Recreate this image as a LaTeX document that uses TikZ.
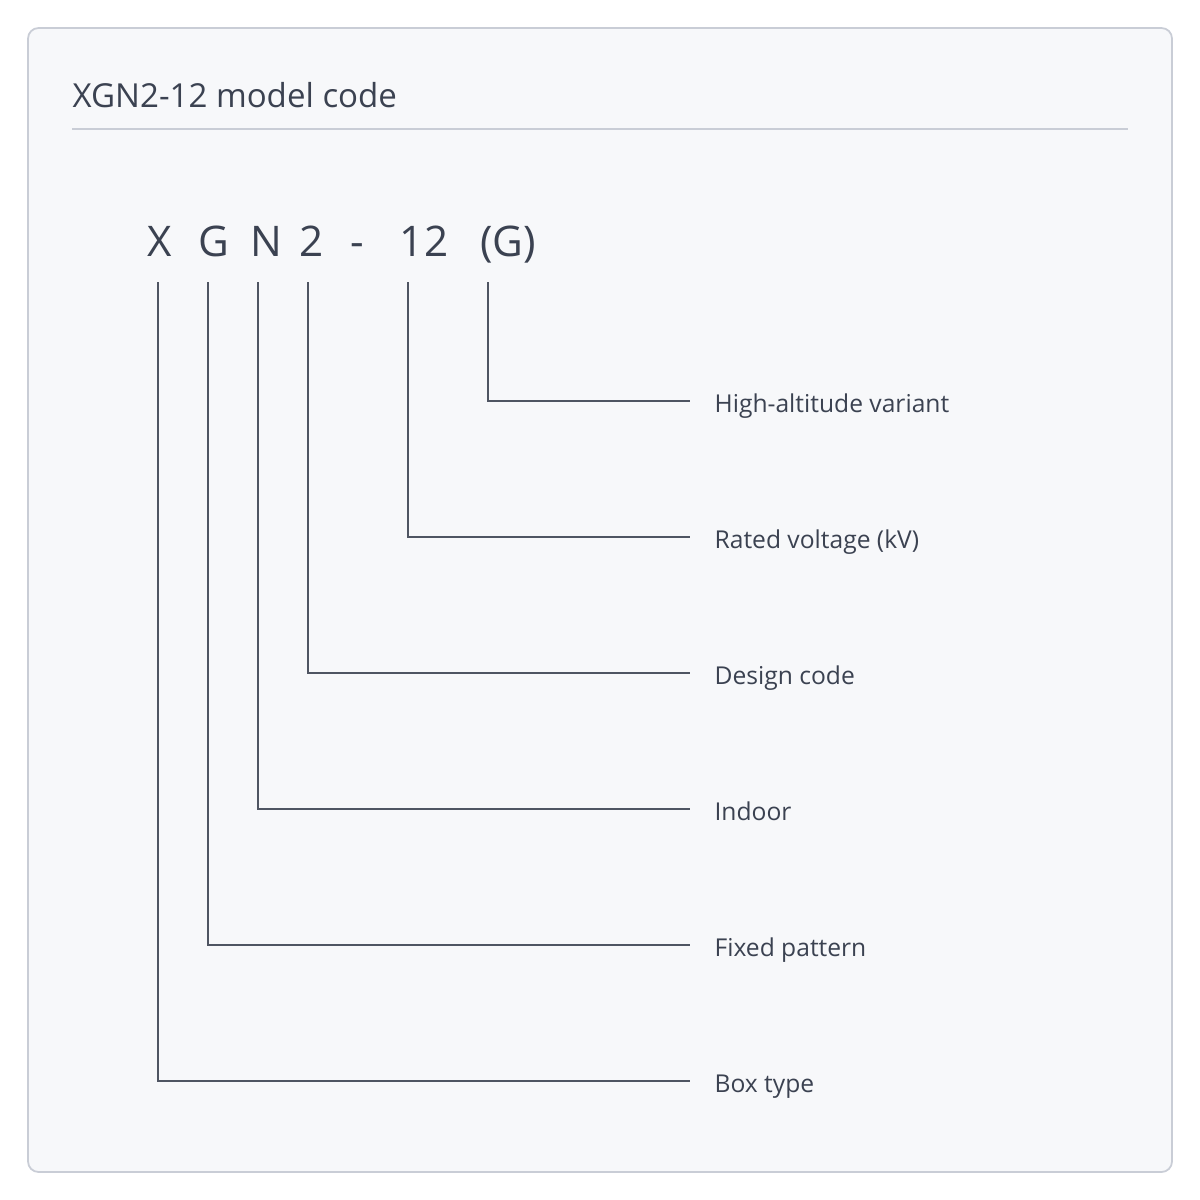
\documentclass[tikz,border=0pt]{standalone}
\usepackage{fontspec}
\setmainfont{Open Sans}
\usetikzlibrary{positioning}
\definecolor{panel}{HTML}{F7F8FA}
\definecolor{edge}{HTML}{C9CDD6}
\definecolor{ink}{HTML}{3B4251}
\tikzset{
  letter/.style={text=ink, font=\fontsize{12}{14}\selectfont, inner sep=0pt, text height=1.6ex, text depth=0.35ex},
  meaning/.style={text=ink, font=\fontsize{7}{9}\selectfont, anchor=west, inner xsep=6.8pt, inner ysep=0pt, text height=1.6ex, text depth=0.35ex},
  leader/.style={draw=ink!90, line width=0.45pt}
}
\begin{document}
\begin{tikzpicture}[x=0.01cm, y=-0.01cm]
              \useasboundingbox (0,0) rectangle (1200,1200);
              % Rahmen
              \draw[fill=panel, draw=edge, line width=0.5pt, rounded corners=3pt] (28,28) rectangle (1172,1172);
              \node[text=ink, font=\fontsize{9.4}{11}\selectfont, anchor=west, inner sep=0pt] (title) at (72,95) {XGN2-12 model code};
              \draw[edge, line width=0.5pt] (72,129) -- (1128,129);

              % Zeichen
              \node[letter] (x) at (160,245) {X};
              \node[letter] (g) at (214,245) {G};
              \node[letter] (n) at (266,245) {N};
              \node[letter] (two) at (312,245) {2};
              \node[letter] (dash) at (357,245) {-};
              \node[letter] (volt) at (424,245) {12};
              \node[letter] (alt) at (508,245) {(G)};

              % Bedeutungen
              \node[meaning] (m6) at (690,401) {High-altitude variant};
              \node[meaning] (m5) at (690,537) {Rated voltage (kV)};
              \node[meaning] (m4) at (690,673) {Design code};
              \node[meaning] (m3) at (690,809) {Indoor};
              \node[meaning] (m2) at (690,945) {Fixed pattern};
              \node[meaning] (m1) at (690,1081) {Box type};

              % Ansatzpunkte
              \coordinate (s1) at (158,282);
              \coordinate (s2) at (208,282);
              \coordinate (s3) at (258,282);
              \coordinate (s4) at (308,282);
              \coordinate (s5) at (408,282);
              \coordinate (s6) at (488,282);

              % Linien
              \draw[leader] (s1) |- (m1.west);
              \draw[leader] (s2) |- (m2.west);
              \draw[leader] (s3) |- (m3.west);
              \draw[leader] (s4) |- (m4.west);
              \draw[leader] (s5) |- (m5.west);
              \draw[leader] (s6) |- (m6.west);
            \end{tikzpicture}
\end{document}
